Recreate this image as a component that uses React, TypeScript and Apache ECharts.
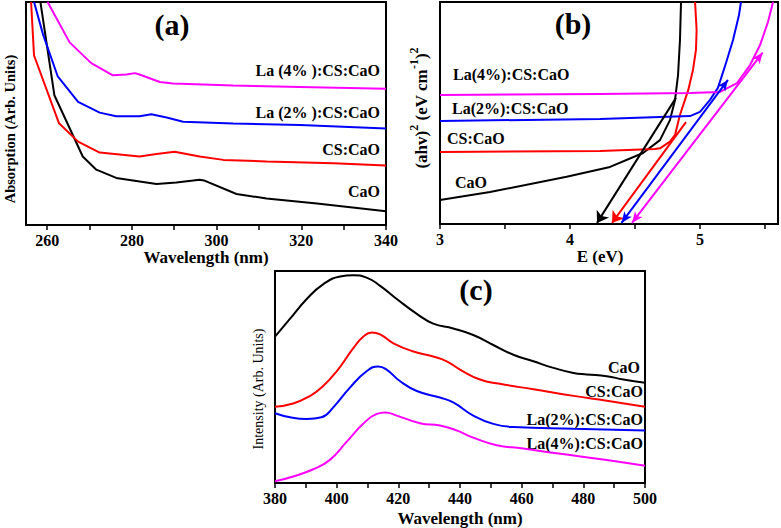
import React, { useEffect, useRef } from "react";
import * as echarts from "echarts";

const FONT = "'Liberation Serif', 'Times New Roman', serif";

// ---------- Panel (a): absorption vs wavelength ----------
const absTicks = [260, 270, 280, 290, 300, 310, 320, 330, 340];
const absTickLabels = [260, 280, 300, 320, 340];
const absCaO: [number, number][] = [
  [258.4, 100], [261.7, 58.2], [268.4, 30.7], [271.6, 24.8], [276.3, 21.1],
  [285.8, 18.4], [290.5, 19.1], [296, 20.3], [297, 20.0], [304.7, 13.9],
  [311.8, 11.9], [323.7, 9.6], [340, 6.2],
];
const absCS: [number, number][] = [
  [256.2, 100], [256.9, 76], [262.8, 45.6], [267.3, 37.4], [272.4, 32.5],
  [281.8, 30.7], [285.8, 31.8], [290.1, 32.8], [296, 30.7], [301.6, 29.2],
  [311.8, 28.5], [327.6, 27.7], [340, 26.7],
];
const absLa2: [number, number][] = [
  [256.9, 100], [259, 85.6], [262.5, 66.6], [267.3, 55.2], [272.4, 50.4],
  [276.3, 48.8], [281.8, 48.8], [284.6, 49.7], [288.2, 48.2], [292.1, 46.3],
  [303.9, 45.5], [319.7, 44.8], [340, 43.3],
];
const absLa4: [number, number][] = [
  [260.1, 100], [265.3, 81.9], [270.4, 72.6], [275.5, 67.1], [278.7, 67.5],
  [280.7, 68.1], [281.8, 67.5], [286.6, 64.1], [289.7, 63.4], [303.9, 62.6],
  [319.7, 61.9], [340, 61.1],
];

// ---------- Panel (b): Tauc plot ----------
const gapTicks = [3, 3.5, 4, 4.5, 5, 5.5];
const gapTickLabels = [3, 4, 5];
const gapCaO: [number, number][] = [
  [3, 10.8], [3.385, 14.4], [3.974, 21.3], [4.308, 25.7], [4.562, 32.0],
  [4.692, 37.8], [4.769, 46.8], [4.808, 55.9], [4.831, 67.1], [4.846, 82.9],
  [4.854, 100],
];
const gapCS: [number, number][] = [
  [3, 32.4], [4.231, 32.9], [4.654, 33.8], [4.692, 34.1], [4.769, 37.1],
  [4.808, 40.1], [4.845, 49], [4.91, 60.4], [4.946, 69.4], [4.969, 78.4],
  [4.974, 87.4], [4.962, 100],
];
const gapLa2: [number, number][] = [
  [3, 46.4], [4.231, 47.3], [4.923, 48.6], [5.0, 50.5], [5.077, 55.9],
  [5.138, 61.3], [5.2, 72.5], [5.254, 82.9], [5.3, 94.1], [5.315, 100],
];
const gapLa4: [number, number][] = [
  [3, 58.1], [4.231, 58.6], [4.923, 59.0], [5.154, 59.5], [5.285, 63.5],
  [5.385, 71.6], [5.462, 80.6], [5.523, 91.0], [5.562, 100],
];
// tangent (extrapolation) lines: [upper point, intercept point]
const tanCaO: [number, number][] = [[4.815, 56.8], [4.208, 0.5]];
const tanCS: [number, number][] = [[4.892, 45.9], [4.323, 0.5]];
const tanLa2: [number, number][] = [[5.215, 64.9], [4.396, 0.5]];
const tanLa4: [number, number][] = [[5.482, 77.2], [4.477, 0.5]];

// ---------- Panel (c): PL intensity ----------
const plTicks = [380, 390, 400, 410, 420, 430, 440, 450, 460, 470, 480, 490, 500];
const plTickLabels = [380, 400, 420, 440, 460, 480, 500];
const plCaO: [number, number][] = [
  [380, 69.0], [384.9, 77.5], [390.3, 86.8], [395.7, 93.8], [401.1, 97.4],
  [405.4, 98.0], [409.7, 96.9], [414.1, 93.0], [419.5, 86.8], [426, 79.8],
  [431.3, 75.2], [437.8, 72.9], [444.3, 69.8], [450.8, 65.1], [457.3, 60.5],
  [463.8, 57.4], [470.3, 54.3], [476.8, 51.9], [481.1, 51.2], [487.6, 50.4],
  [493, 48.8], [500, 47.3],
];
const plCS: [number, number][] = [
  [380, 36.0], [385.9, 37.5], [391.4, 41.1], [395.1, 45.0], [400, 52.7],
  [405.4, 63.6], [408.6, 69.0], [411.4, 71.0], [414.1, 70.1], [418.4, 65.9],
  [424.9, 62.0], [431.3, 59.7], [435.7, 57.4], [440, 53.5], [446.5, 48.8],
  [452.9, 46.8], [463.8, 44.2], [476.8, 41.1], [487.6, 38.8], [500, 36.0],
];
const plLa2: [number, number][] = [
  [380, 32.9], [384.9, 31.0], [390.3, 30.2], [395.1, 31.0], [398.9, 35.7],
  [404.3, 45.0], [409.7, 52.7], [413.5, 55.0], [416.2, 53.5], [420.5, 48.1],
  [426, 43.4], [433.5, 40.3], [437.8, 38.0], [444.3, 31.8], [450.8, 27.9],
  [457.3, 26.4], [476.8, 25.6], [500, 24.8],
];
const plLa4: [number, number][] = [
  [380, 0.8], [385.9, 3.1], [392.4, 6.5], [397.8, 10.9], [403.2, 19.4],
  [408.6, 27.9], [413, 32.6], [415.7, 33.3], [419.5, 31.8], [427, 28.2],
  [433.5, 27.1], [438.9, 24.8], [444.3, 21.4], [451.9, 17.8], [460.5, 16.3],
  [471.3, 14.0], [487.6, 10.9], [500, 8.1],
];

const BLACK = "#000000";
const RED = "#ff0000";
const BLUE = "#0000ff";
const MAGENTA = "#ff00ff";

function xAxisDef(gridIndex: number, min: number, max: number, ticks: number[], labels: number[], name: string, nameGap: number, namePad: number[]) {
  return {
    type: "value",
    gridIndex,
    min,
    max,
    splitLine: { show: false },
    axisLine: { show: true, onZero: false, lineStyle: { color: "#000", width: 2 } },
    axisTick: { show: true, customValues: ticks, length: 5, lineStyle: { color: "#000", width: 1.5 } },
    axisLabel: {
      customValues: labels,
      margin: 7,
      color: "#000",
      fontFamily: FONT,
      fontWeight: "bold",
      fontSize: 16,
    },
    name,
    nameLocation: "middle",
    nameGap,
    nameTextStyle: { color: "#000", fontFamily: FONT, fontWeight: "bold", fontSize: 17, padding: namePad, verticalAlign: "top" },
  };
}

function yAxisDef(gridIndex: number) {
  return {
    type: "value",
    gridIndex,
    min: 0,
    max: 100,
    splitLine: { show: false },
    axisLine: { show: true, onZero: false, lineStyle: { color: "#000", width: 2 } },
    axisTick: { show: false },
    axisLabel: { show: false },
  };
}

function lineSeries(idx: number, data: [number, number][], color: string, smooth: boolean, extra: any = {}) {
  return {
    type: "line",
    xAxisIndex: idx,
    yAxisIndex: idx,
    data,
    symbol: "none",
    smooth,
    clip: true,
    lineStyle: { color, width: 2 },
    itemStyle: { color },
    silent: true,
    ...extra,
  };
}

function arrow(tan: [number, number][], color: string, both: boolean) {
  return {
    markLine: {
      silent: true,
      symbol: both ? ["arrow", "arrow"] : ["none", "arrow"],
      symbolSize: both ? [7, 11] : 11,
      label: { show: false },
      lineStyle: { color, width: 2, type: "solid" },
      data: [[{ coord: tan[0] }, { coord: tan[1] }]],
    },
  };
}

function txt(text: string, x: number, y: number, align: string, size = 16, weight = "bold") {
  return {
    type: "text",
    x,
    y,
    silent: true,
    style: {
      text,
      fill: "#000",
      fontFamily: FONT,
      fontWeight: weight,
      fontSize: size,
      align,
      verticalAlign: "middle",
    },
  };
}

export default function App() {
  const ref = useRef<HTMLDivElement>(null);
  useEffect(() => {
    if (!ref.current) return;
    const chart = echarts.init(ref.current, null, { renderer: "svg" });
    const gridStyle = { show: true, borderColor: "#000", borderWidth: 2, backgroundColor: "transparent", containLabel: false };
    const option: any = {
      animation: false,
      textStyle: { fontFamily: FONT },
      grid: [
        { left: 26, top: 2, width: 360, height: 223, ...gridStyle },
        { left: 440, top: 2, width: 338, height: 222, ...gridStyle },
        { left: 275, top: 271, width: 370, height: 215, ...gridStyle },
      ],
      xAxis: [
        xAxisDef(0, 255, 340, absTicks, absTickLabels, "Wavelength (nm)", 18, [0, 0, 0, 0]),
        xAxisDef(1, 3, 5.6, gapTicks, gapTickLabels, "E (eV)", 17, [0, 18, 0, 0]),
        xAxisDef(2, 380, 500, plTicks, plTickLabels, "Wavelength (nm)", 27, [0, 0, 0, 0]),
      ],
      yAxis: [yAxisDef(0), yAxisDef(1), yAxisDef(2)],
      series: [
        lineSeries(0, absCaO, BLACK, false),
        lineSeries(0, absCS, RED, false),
        lineSeries(0, absLa2, BLUE, false),
        lineSeries(0, absLa4, MAGENTA, false),
        lineSeries(1, gapCaO, BLACK, false, arrow(tanCaO, BLACK, false)),
        lineSeries(1, gapCS, RED, false, arrow(tanCS, RED, false)),
        lineSeries(1, gapLa2, BLUE, false, arrow(tanLa2, BLUE, true)),
        lineSeries(1, gapLa4, MAGENTA, false, arrow(tanLa4, MAGENTA, true)),
        lineSeries(2, plCaO, BLACK, true),
        lineSeries(2, plCS, RED, true),
        lineSeries(2, plLa2, BLUE, true),
        lineSeries(2, plLa4, MAGENTA, true),
      ],
      graphic: [
        txt("(a)", 172, 24, "center", 30),
        txt("(b)", 573, 23, "center", 30),
        txt("(c)", 476, 289, "center", 30),
        txt("La (4% ):CS:CaO", 380, 70, "right"),
        txt("La (2% ):CS:CaO", 380, 112, "right"),
        txt("CS:CaO", 380, 149, "right"),
        txt("CaO", 380, 191, "right"),
        txt("La(4%):CS:CaO", 453, 74, "left"),
        txt("La(2%):CS:CaO", 452, 108, "left"),
        txt("CS:CaO", 447, 138, "left"),
        txt("CaO", 455, 182, "left"),
        txt("CaO", 640, 367, "right"),
        txt("CS:CaO", 643, 391, "right"),
        txt("La(2%):CS:CaO", 643, 419, "right"),
        txt("La(4%):CS:CaO", 643, 443, "right"),
        { ...txt("Absorption (Arb. Units)", 10, 129, "center", 14.5), rotation: Math.PI / 2 },
        { ...txt("Intensity (Arb. Units)", 258, 389, "center", 14, "normal"), rotation: Math.PI / 2 },
        {
          type: "text",
          x: 421,
          y: 108,
          rotation: Math.PI / 2,
          silent: true,
          style: {
            text: "{n|(ahv)}{s|2}{n| (eV cm}{s|-1}{n|)}{s|2}",
            fill: "#000",
            align: "center",
            verticalAlign: "middle",
            rich: {
              n: { fontFamily: FONT, fontWeight: "bold", fontSize: 17, lineHeight: 26, fill: "#000" },
              s: { fontFamily: FONT, fontWeight: "bold", fontSize: 12, lineHeight: 13, verticalAlign: "top", fill: "#000" },
            },
          },
        },
      ],
    };
    chart.setOption(option);
    return () => chart.dispose();
  }, []);
  return (
    <div
      ref={ref}
      style={{ position: "absolute", left: 0, top: 0, width: 781, height: 528, background: "#fff" }}
    />
  );
}
